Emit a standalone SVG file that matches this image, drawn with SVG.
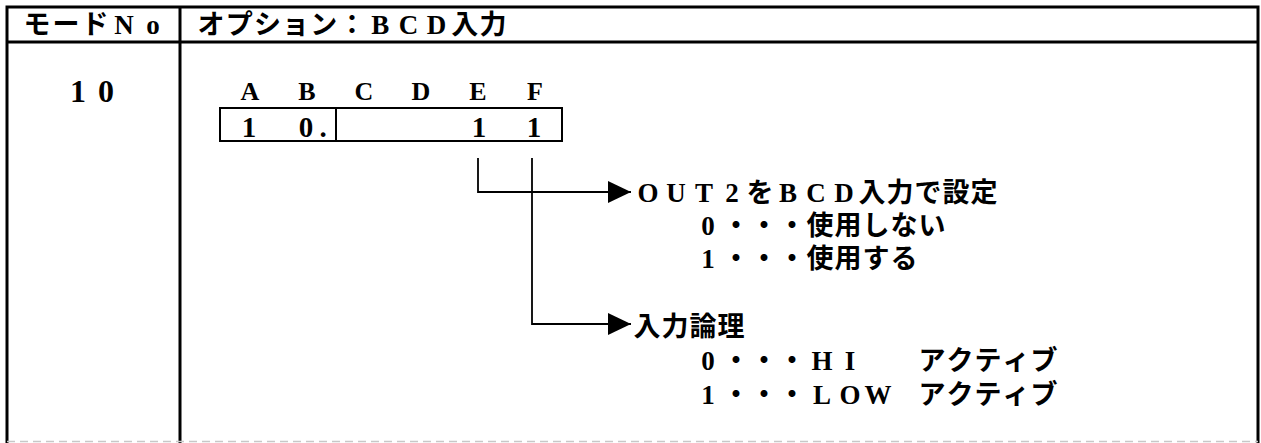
<svg xmlns="http://www.w3.org/2000/svg" width="1261" height="443" viewBox="0 0 1261 443">
<style>
.t{font-family:"Liberation Serif","Noto Sans CJK JP",serif;font-weight:bold;fill:#000;text-anchor:middle}
.h{font-size:27px}
.b{font-size:27px}
.frame{fill:none;stroke:#000;stroke-width:3}
.thin{fill:none;stroke:#000;stroke-width:2}
.con{fill:none;stroke:#000;stroke-width:1.8}
</style>
<defs>
<marker id="arr" markerUnits="userSpaceOnUse" markerWidth="24" markerHeight="22" refX="23" refY="11" orient="auto">
<path d="M0,0 L23,11 L0,22 z" fill="#000"/>
</marker>
</defs>
<rect width="1261" height="443" fill="#fff"/>
<g id="table">
<path class="frame" d="M7 443 V7 H1258 V443"/>
<line class="frame" x1="7" y1="42" x2="1258" y2="42" stroke-width="2.5"/>
<line class="frame" x1="180" y1="7" x2="180" y2="443"/>
<line x1="7" y1="441.5" x2="1258" y2="441.5" stroke="#c8c8c8" stroke-width="1.5" stroke-dasharray="8 5"/>
</g>
<g id="header-mode">
<text class="t h" x="37 66 95 124 153" y="34">モードNo</text>
</g>
<g id="header-option">
<text class="t h" x="211 239.2 267.4 295.6 323.8 352 380.2 408.4 436.6 464.8 493" y="34">オプション：BCD入力</text>
</g>
<g id="mode-number">
<text class="t" style="font-size:32px" x="78 106" y="102">10</text>
</g>
<g id="bit-field">
<text class="t" style="font-size:26px" x="250 307 364 421 478 535" y="100">ABCDEF</text>
<rect class="thin" x="220" y="108" width="342" height="33"/>
<line class="thin" x1="336" y1="108" x2="336" y2="141"/>
<text class="t" style="font-size:29px" x="249 306 323 479 534" y="137">10.11</text>
</g>
<g id="connectors">
<path class="con" d="M478 158 V192 H631" marker-end="url(#arr)"/>
<path class="con" d="M532 158 V324 H631" marker-end="url(#arr)"/>
</g>
<g id="desc-out2">
<text class="t b" x="648 676 704 732 760 788 816 844 872 900 928 956 984" y="202">OUT2をBCD入力で設定</text>
<text class="t b" x="708 736 764 792 820 848 876 904 932" y="235">0・・・使用しない</text>
<text class="t b" x="708 736 764 792 820 848 876 904" y="268">1・・・使用する</text>
</g>
<g id="desc-logic">
<text class="t b" x="647 675 703 731" y="336">入力論理</text>
<text class="t b" x="708 736 764 792 822 850 876 904 932 960 988 1016 1044" y="370">0・・・HI　　アクティブ</text>
<text class="t b" x="708 736 764 792 822 850 878 904 932 960 988 1016 1044" y="404">1・・・LOW　アクティブ</text>
</g>
</svg>
